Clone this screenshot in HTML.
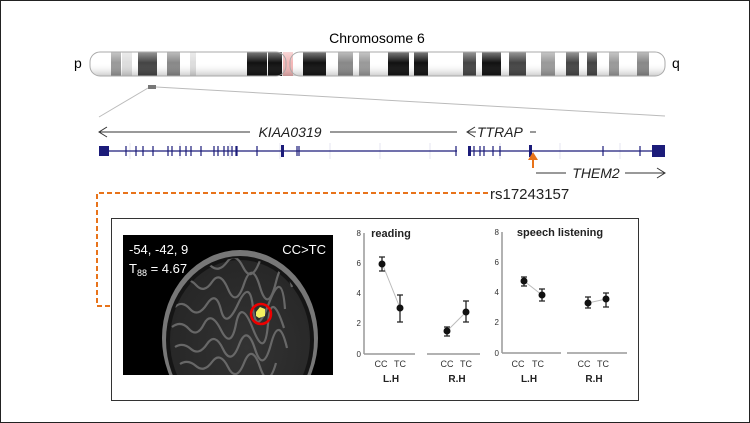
<!DOCTYPE html>
<html><head><style>
html,body{margin:0;padding:0;background:#fff}
svg{display:block}
text{font-family:"Liberation Sans",Arial,sans-serif}
</style></head><body>
<svg width="750" height="423" viewBox="0 0 750 423" xmlns="http://www.w3.org/2000/svg">
<defs>
<linearGradient id="sh" x1="0" y1="0" x2="0" y2="1">
<stop offset="0" stop-color="#fff" stop-opacity="0.45"/>
<stop offset="0.45" stop-color="#fff" stop-opacity="0"/>
<stop offset="1" stop-color="#000" stop-opacity="0.2"/>
</linearGradient>
<radialGradient id="brain" cx="0.55" cy="0.55" r="0.6">
<stop offset="0" stop-color="#333"/>
<stop offset="1" stop-color="#262626"/>
</radialGradient>
<clipPath id="chrclip"><rect x="90" y="52" width="575" height="24" rx="10"/></clipPath>
<clipPath id="imgclip"><rect x="123" y="235" width="210" height="140"/></clipPath>
<clipPath id="brclip"><ellipse cx="240" cy="338" rx="70" ry="80"/></clipPath>
</defs>
<rect x="0.5" y="0.5" width="749" height="422" fill="#fff" stroke="#222"/>
<text x="377" y="43" font-size="14" text-anchor="middle">Chromosome 6</text>
<text x="74" y="68" font-size="14">p</text>
<text x="672" y="68" font-size="14">q</text>
<g clip-path="url(#chrclip)">
<rect x="88" y="52" width="580" height="24" fill="#fff"/>
<rect x="111" y="52" width="10" height="24" fill="#999"/>
<rect x="122" y="52" width="10" height="24" fill="#ddd"/>
<rect x="138" y="52" width="19" height="24" fill="#444"/>
<rect x="167" y="52" width="13" height="24" fill="#888"/>
<rect x="190" y="52" width="6" height="24" fill="#ddd"/>
<rect x="247" y="52" width="20" height="24" fill="#111"/>
<rect x="268" y="52" width="14" height="24" fill="#111"/>
<rect x="283" y="52" width="10" height="24" fill="#f3b6b6"/>
<rect x="303" y="52" width="23" height="24" fill="#111"/>
<rect x="338" y="52" width="15" height="24" fill="#888"/>
<rect x="359" y="52" width="11" height="24" fill="#999"/>
<rect x="388" y="52" width="21" height="24" fill="#111"/>
<rect x="414" y="52" width="14" height="24" fill="#111"/>
<rect x="463" y="52" width="13" height="24" fill="#444"/>
<rect x="482" y="52" width="19" height="24" fill="#111"/>
<rect x="509" y="52" width="17" height="24" fill="#444"/>
<rect x="541" y="52" width="14" height="24" fill="#999"/>
<rect x="566" y="52" width="13" height="24" fill="#444"/>
<rect x="587" y="52" width="10" height="24" fill="#444"/>
<rect x="609" y="52" width="10" height="24" fill="#999"/>
<rect x="637" y="52" width="12" height="24" fill="#888"/>
<rect x="88" y="52" width="580" height="24" fill="url(#sh)"/>
</g>
<rect x="90" y="52" width="196" height="24" rx="10" fill="none" stroke="#aaa"/>
<rect x="290" y="52" width="375" height="24" rx="10" fill="none" stroke="#aaa"/>
<rect x="148" y="85" width="8" height="4" fill="#777"/>
<line x1="148" y1="88" x2="99" y2="117" stroke="#bbb"/>
<line x1="156" y1="87" x2="665" y2="116" stroke="#bbb"/>
<g stroke="#333" fill="none" stroke-width="1">
<line x1="99" y1="132" x2="250" y2="132"/><line x1="330" y1="132" x2="457" y2="132"/>
<polyline points="107,127 99,132 107,137"/>
<polyline points="475,127 467,132 475,137"/>
<line x1="467" y1="132" x2="476" y2="132"/>
<line x1="530" y1="132" x2="536" y2="132"/>
<line x1="536" y1="173" x2="566" y2="173"/><line x1="625" y1="173" x2="665" y2="173"/>
<polyline points="657,168 665,173 657,178"/>
</g>
<text x="290" y="137" font-size="14" font-style="italic" text-anchor="middle" fill="#222">KIAA0319</text>
<text x="477" y="137" font-size="14" font-style="italic" fill="#222">TTRAP</text>
<text x="596" y="178" font-size="14" font-style="italic" text-anchor="middle" fill="#222">THEM2</text>
<g stroke="#e4e4f0"><line x1="130" y1="143" x2="130" y2="159"/><line x1="180" y1="143" x2="180" y2="159"/><line x1="230" y1="143" x2="230" y2="159"/><line x1="280" y1="143" x2="280" y2="159"/><line x1="330" y1="143" x2="330" y2="159"/><line x1="380" y1="143" x2="380" y2="159"/><line x1="430" y1="143" x2="430" y2="159"/><line x1="500" y1="143" x2="500" y2="159"/><line x1="560" y1="143" x2="560" y2="159"/><line x1="620" y1="143" x2="620" y2="159"/></g>
<g stroke="#1c1c7a" stroke-width="1.2">
<line x1="99" y1="151" x2="457" y2="151"/><line x1="468" y1="151" x2="665" y2="151"/>
<line x1="126" y1="146" x2="126" y2="156"/><line x1="136" y1="146" x2="136" y2="156"/><line x1="143" y1="146" x2="143" y2="156"/><line x1="153" y1="146" x2="153" y2="156"/><line x1="168" y1="146" x2="168" y2="156"/><line x1="172" y1="146" x2="172" y2="156"/><line x1="180" y1="146" x2="180" y2="156"/><line x1="186" y1="146" x2="186" y2="156"/><line x1="191" y1="146" x2="191" y2="156"/><line x1="201" y1="146" x2="201" y2="156"/><line x1="214" y1="146" x2="214" y2="156"/><line x1="218" y1="146" x2="218" y2="156"/><line x1="224" y1="146" x2="224" y2="156"/><line x1="228" y1="146" x2="228" y2="156"/><line x1="232" y1="146" x2="232" y2="156"/><line x1="236" y1="146" x2="236" y2="156"/><line x1="237" y1="146" x2="237" y2="156"/><line x1="257" y1="146" x2="257" y2="156"/><line x1="297" y1="146" x2="297" y2="156"/><line x1="299" y1="146" x2="299" y2="156"/><line x1="456" y1="146" x2="456" y2="156"/>
<line x1="474" y1="146" x2="474" y2="156"/><line x1="480" y1="146" x2="480" y2="156"/><line x1="484" y1="146" x2="484" y2="156"/><line x1="493" y1="146" x2="493" y2="156"/><line x1="500" y1="146" x2="500" y2="156"/><line x1="603" y1="146" x2="603" y2="156"/><line x1="640" y1="146" x2="640" y2="156"/>
</g>
<g fill="#1c1c7a">
<rect x="99" y="146" width="10" height="10"/><rect x="281" y="145" width="3" height="12"/><rect x="468" y="146" width="3" height="10"/><rect x="529" y="145" width="3" height="12"/><rect x="652" y="145" width="13" height="12"/>
</g>
<line x1="533" y1="168" x2="533" y2="156" stroke="#e8731a" stroke-width="2"/>
<polygon points="533,152 528,160 538,160" fill="#e8731a"/>
<path d="M488 193 H97 V306 H111" fill="none" stroke="#e8731a" stroke-width="2" stroke-dasharray="5,3"/>
<text x="490" y="199" font-size="15" fill="#222">rs17243157</text>
<rect x="111.5" y="218.5" width="527" height="182" fill="#fff" stroke="#333"/>
<rect x="123" y="235" width="210" height="140" fill="#000"/>
<g clip-path="url(#imgclip)">
<ellipse cx="240" cy="338" rx="78" ry="88" fill="#777"/>
<ellipse cx="240" cy="340" rx="74" ry="84" fill="#151515"/>
<ellipse cx="240" cy="340" rx="70" ry="80" fill="url(#brain)"/>
<g clip-path="url(#brclip)" fill="none" stroke="#777" stroke-width="2.2" opacity="0.8">
<path d="M180 285 q8 -9 16 0 t16 -3 t16 7 t16 -5 t16 3 t16 -5 t16 5"/>
<path d="M175 307 q7 -7 15 2 t17 -5 t14 6 t17 -6 t15 4 t16 -5 t16 6"/>
<path d="M172 327 q9 -7 17 2 t15 -5 t17 6 t15 -6 t17 5 t15 -5 t16 4"/>
<path d="M175 347 q8 -5 16 2 t16 -5 t16 5 t16 -4 t16 4 t16 -5 t16 4"/>
<path d="M180 364 q8 -5 16 2 t16 -4 t16 5 t16 -4 t16 4 t16 -4"/>
<path d="M195 266 q8 -7 16 0 t16 -4 t16 5 t16 -4 t16 4"/>
</g>
<path d="M256 312 l4 -5 5 2 0 7 -6 2 -3 -2z" fill="#f4f060"/>
<circle cx="261" cy="314" r="10" fill="none" stroke="#e00" stroke-width="2.5"/>
</g>
<text x="129" y="254" font-size="13" fill="#fff">-54, -42, 9</text>
<text x="129" y="273" font-size="13" fill="#fff">T<tspan font-size="9" dy="3">88</tspan><tspan dy="-3"> = 4.67</tspan></text>
<text x="326" y="254" font-size="13" fill="#fff" text-anchor="end">CC&gt;TC</text>
<g font-size="8" fill="#333" text-anchor="end">
<text x="361" y="236">8</text><text x="361" y="266">6</text><text x="361" y="296">4</text><text x="361" y="326">2</text><text x="361" y="357">0</text>
<text x="499" y="235">8</text><text x="499" y="265">6</text><text x="499" y="295">4</text><text x="499" y="325">2</text><text x="499" y="356">0</text>
</g>
<g stroke="#999" stroke-width="1.5">
<line x1="364" y1="233" x2="364" y2="354"/><line x1="364" y1="354" x2="415" y2="354"/><line x1="427" y1="354" x2="480" y2="354"/>
<line x1="502" y1="232" x2="502" y2="353"/><line x1="502" y1="353" x2="561" y2="353"/><line x1="567" y1="353" x2="627" y2="353"/>
</g>
<g stroke="#bbb"><line x1="382" y1="263" x2="400" y2="308"/><line x1="447" y1="331" x2="466" y2="312"/>
<line x1="524" y1="281" x2="542" y2="295"/><line x1="588" y1="303" x2="606" y2="299"/></g>
<g stroke="#222" stroke-width="1.3" fill="none">
<path d="M382 257 V271 M379 257 h6 M379 271 h6"/>
<path d="M400 295 V322 M397 295 h6 M397 322 h6"/>
<path d="M447 327 V336 M444 327 h6 M444 336 h6"/>
<path d="M466 301 V322 M463 301 h6 M463 322 h6"/>
<path d="M524 277 V286 M521 277 h6 M521 286 h6"/>
<path d="M542 289 V301 M539 289 h6 M539 301 h6"/>
<path d="M588 297 V308 M585 297 h6 M585 308 h6"/>
<path d="M606 293 V307 M603 293 h6 M603 307 h6"/>
</g>
<g fill="#111">
<circle cx="382" cy="264" r="3.5"/><circle cx="400" cy="308" r="3.5"/><circle cx="447" cy="331" r="3.5"/><circle cx="466" cy="312" r="3.5"/>
<circle cx="524" cy="281" r="3.5"/><circle cx="542" cy="295" r="3.5"/><circle cx="588" cy="303" r="3.5"/><circle cx="606" cy="299" r="3.5"/>
</g>
<g font-size="11" font-weight="bold" fill="#222" text-anchor="middle">
<text x="391" y="237">reading</text><text x="560" y="236">speech listening</text>
</g>
<g font-size="9" fill="#333" text-anchor="middle">
<text x="381" y="367">CC</text><text x="400" y="367">TC</text><text x="447" y="367">CC</text><text x="466" y="367">TC</text>
<text x="518" y="367">CC</text><text x="538" y="367">TC</text><text x="584" y="367">CC</text><text x="603" y="367">TC</text>
</g>
<g font-size="10" font-weight="bold" fill="#222" text-anchor="middle">
<text x="391" y="382">L.H</text><text x="457" y="382">R.H</text><text x="529" y="382">L.H</text><text x="594" y="382">R.H</text>
</g>
</svg>
</body></html>
